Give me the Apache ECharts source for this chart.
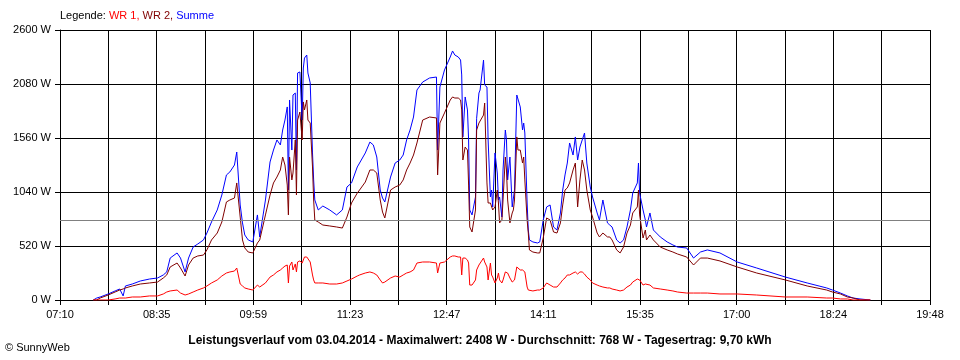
<!DOCTYPE html>
<html>
<head>
<meta charset="utf-8">
<style>
html,body{margin:0;padding:0;background:#fff;}
#chart{width:960px;height:360px;}
</style>
<script src="https://cdn.jsdelivr.net/npm/echarts/dist/echarts.min.js"></script>
</head>
<body>
<div id="chart"></div>
<script>
// X tick labels (every second grid division)
const tickLabels = ['07:10','08:35','09:59','11:23','12:47','14:11','15:35','17:00','18:24','19:48'];
const axisStart = '07:10';
const axisEnd = '19:48';
const divisions = 18;

const yMax = 2600;
const yStep = 520;
const average = 768;

const times = [
'07:39','07:42','07:45','07:52','07:58','08:02','08:05','08:07','08:13','08:20',
'08:28','08:35','08:40','08:43','08:46','08:52','08:55','08:59','09:02','09:06',
'09:10','09:15','09:18','09:22','09:27','09:31','09:35','09:38','09:42','09:44',
'09:47','09:49','09:51','09:54','09:58','10:02','10:04','10:09','10:13','10:16',
'10:19','10:22','10:24','10:26','10:28','10:29','10:30','10:32','10:33','10:35',
'10:36','10:37','10:39','10:41','10:42','10:43','10:45','10:46','10:48','10:50',
'10:51','10:52','10:55','10:59','11:05','11:11','11:16','11:20','11:24','11:29',
'11:31','11:36','11:40','11:43','11:46','11:49','11:51','11:53','11:58','12:02',
'12:06','12:09','12:12','12:15','12:18','12:21','12:26','12:32','12:38','12:39',
'12:41','12:45','12:50','12:52','12:54','12:57','12:59','13:00','13:01','13:03',
'13:05','13:06','13:07','13:09','13:12','13:13','13:15','13:16','13:19','13:20',
'13:22','13:23','13:25','13:26','13:27','13:29','13:31','13:32','13:33','13:35',
'13:36','13:38','13:39','13:40','13:42','13:44','13:45','13:46','13:48','13:49',
'13:51','13:53','13:54','13:55','13:57','13:58','13:59','14:02','14:06','14:08',
'14:11','14:14','14:17','14:20','14:23','14:26','14:28','14:30','14:32','14:34',
'14:37','14:39','14:41','14:43','14:45','14:47','14:49','14:52','14:54','14:58',
'15:00','15:03','15:07','15:09','15:11','15:15','15:18','15:21','15:24','15:27',
'15:29','15:33','15:34','15:35','15:38','15:40','15:41','15:44','15:47','15:53',
'15:59','16:04','16:08','16:16','16:22','16:28','16:34','16:45','17:00','17:17',
'17:42','18:01','18:18','18:23','18:30','18:36','18:41','18:47','18:56'
];

const summe = [
0,19,29,58,87,106,39,135,154,183,
202,212,241,270,404,453,404,270,404,510,
539,578,645,751,867,1011,1204,1233,1300,1425,
915,742,626,578,559,819,607,963,1329,1444,
1541,1493,1637,1733,1859,1059,1926,1444,1974,1993,
1252,2186,2196,1733,2234,2330,2359,2186,2090,1416,
1156,963,867,905,867,819,867,1088,1127,1281,
1319,1416,1521,1493,1377,1059,982,944,1184,1319,
1348,1396,1541,1637,1762,2022,2099,2138,2147,1444,
2051,2215,2340,2398,2359,2340,2311,2167,1570,1955,
1830,1541,867,819,992,1750,1993,2022,2311,2070,
2051,1541,992,1059,896,1416,1223,963,992,799,
1252,1637,1541,1156,1377,896,896,1059,1974,1993,
1859,1637,1704,1608,934,674,578,559,549,559,
770,896,915,703,674,838,1059,1204,1319,1512,
1396,1570,1348,1473,1541,1608,1319,1088,992,838,
770,963,742,722,703,578,549,578,703,867,
1030,1127,1319,1030,867,770,703,838,674,607,
559,530,510,501,404,462,482,453,366,308,
221,164,116,96,67,39,19,10,0
];

const wr2 = [
0,0,19,48,77,96,106,116,135,154,
164,173,212,241,318,356,308,231,337,404,
424,433,482,578,645,751,944,963,982,1127,
799,578,501,462,453,549,578,819,1011,1127,
1184,1252,1377,1300,1107,819,1377,1156,1223,1541,
1011,1733,1810,1541,1907,1830,1926,1733,1704,1281,
963,770,751,722,713,703,693,799,934,1030,
1059,1136,1252,1252,1223,963,847,790,1059,1088,
1107,1156,1252,1319,1396,1512,1733,1762,1753,1204,
1704,1801,1926,1955,1945,1945,1926,1830,1348,1473,
1444,1107,703,655,867,1637,1704,1704,1781,1897,
1127,934,934,915,867,896,1059,934,742,770,
963,1377,1252,963,742,838,867,963,1570,1444,
1444,1319,1377,1156,770,645,482,462,453,453,
597,790,770,655,645,742,915,1059,1079,1127,
1252,1319,896,1156,1348,1252,1059,867,799,645,
607,645,607,607,578,482,453,510,645,722,
838,896,1059,819,597,674,578,626,578,510,
482,462,443,414,337,404,404,376,318,260,
193,135,96,77,58,29,19,0,0
];

const wr1 = [
0,0,0,0,10,19,19,19,29,29,
39,39,58,77,87,96,67,48,58,77,
96,116,135,164,193,231,260,270,279,308,
154,135,116,106,96,144,125,164,221,241,
270,289,308,327,337,164,327,366,289,347,
270,366,376,356,385,414,414,404,366,241,
193,164,164,164,154,154,164,183,202,231,
241,260,270,260,241,193,164,173,212,231,
221,241,260,270,289,356,366,366,356,260,
356,366,414,424,424,414,414,241,404,404,
385,356,144,144,193,289,337,356,404,366,
318,193,356,241,221,164,212,260,193,164,
193,270,289,260,212,173,183,193,318,337,
289,289,279,270,125,96,96,87,96,96,
116,164,144,125,125,164,193,212,241,241,
260,270,250,270,270,250,221,193,164,144,
135,125,116,116,106,96,87,96,125,144,
173,202,221,193,144,154,135,144,116,106,
96,87,77,67,67,67,67,58,58,48,
29,29,19,19,10,10,0,0,0
];

function toMin(t){ const p = t.split(':').map(Number); return p[0]*60 + p[1]; }
const t0 = toMin(axisStart);
const divLen = (toMin(axisEnd) - t0) / divisions;
function toX(t){ return (toMin(t) - t0) / divLen; }
function pairs(vals){ return times.map((t,i) => [toX(t), vals[i]]); }

const FONT = '"Liberation Sans", Arial, sans-serif';

const chart = echarts.init(document.getElementById('chart'), null, {renderer:'canvas'});
chart.setOption({
  animation: false,
  backgroundColor: '#ffffff',
  textStyle: { fontFamily: FONT },
  grid: { left: 60, top: 30, right: 30, bottom: 60, containLabel: false },
  title: {
    text: 'Leistungsverlauf vom 03.04.2014 - Maximalwert: 2408 W - Durchschnitt: 768 W - Tagesertrag: 9,70 kWh',
    left: 'center', top: 330,
    textStyle: { fontSize: 12, fontWeight: 'bold', color: '#000', fontFamily: FONT }
  },
  graphic: [
    { type: 'text', left: 60, top: 10,
      style: { text: '{a|Legende: }{b|WR 1, }{c|WR 2, }{d|Summe}',
        font: '11px ' + FONT,
        rich: {
          a: { fill: '#000', fontSize: 11, fontFamily: FONT },
          b: { fill: '#ff0000', fontSize: 11, fontFamily: FONT },
          c: { fill: '#800000', fontSize: 11, fontFamily: FONT },
          d: { fill: '#0000ff', fontSize: 11, fontFamily: FONT }
        } } },
    { type: 'text', left: 5, top: 342,
      style: { text: '\u00a9 SunnyWeb', fill: '#000', font: '11px ' + FONT } }
  ],
  xAxis: {
    type: 'value', min: 0, max: divisions, interval: 1,
    axisLine: { show: true, onZero: false, lineStyle: { color: '#000', width: 1 } },
    axisTick: { show: true, length: 5, lineStyle: { color: '#000' } },
    axisLabel: { color: '#000', fontSize: 11, margin: 9, fontFamily: FONT,
      formatter: v => (Math.round(v) % 2 === 0 ? tickLabels[Math.round(v)/2] : '') },
    splitLine: { show: true, showMinLine: true, showMaxLine: true, lineStyle: { color: '#000', width: 1 } }
  },
  yAxis: {
    type: 'value', min: 0, max: yMax, interval: yStep,
    axisLine: { show: true, lineStyle: { color: '#000', width: 1 } },
    axisTick: { show: true, length: 5, lineStyle: { color: '#000' } },
    axisLabel: { color: '#000', fontSize: 11, margin: 9, fontFamily: FONT, formatter: v => v + ' W' },
    splitLine: { show: true, showMinLine: true, showMaxLine: true, lineStyle: { color: '#000', width: 1 } }
  },
  series: [
    { name: 'Summe', type: 'line', data: pairs(summe), showSymbol: false, symbol: 'none',
      lineStyle: { color: '#0000ff', width: 1 }, itemStyle: { color: '#0000ff' },
      markLine: { silent: true, symbol: 'none', label: { show: false },
        lineStyle: { color: '#808080', type: 'solid', width: 1 },
        data: [{ yAxis: average }] } },
    { name: 'WR 2', type: 'line', data: pairs(wr2), showSymbol: false, symbol: 'none',
      lineStyle: { color: '#800000', width: 1 }, itemStyle: { color: '#800000' } },
    { name: 'WR 1', type: 'line', data: pairs(wr1), showSymbol: false, symbol: 'none',
      lineStyle: { color: '#ff0000', width: 1 }, itemStyle: { color: '#ff0000' } }
  ]
});
</script>
</body>
</html>
